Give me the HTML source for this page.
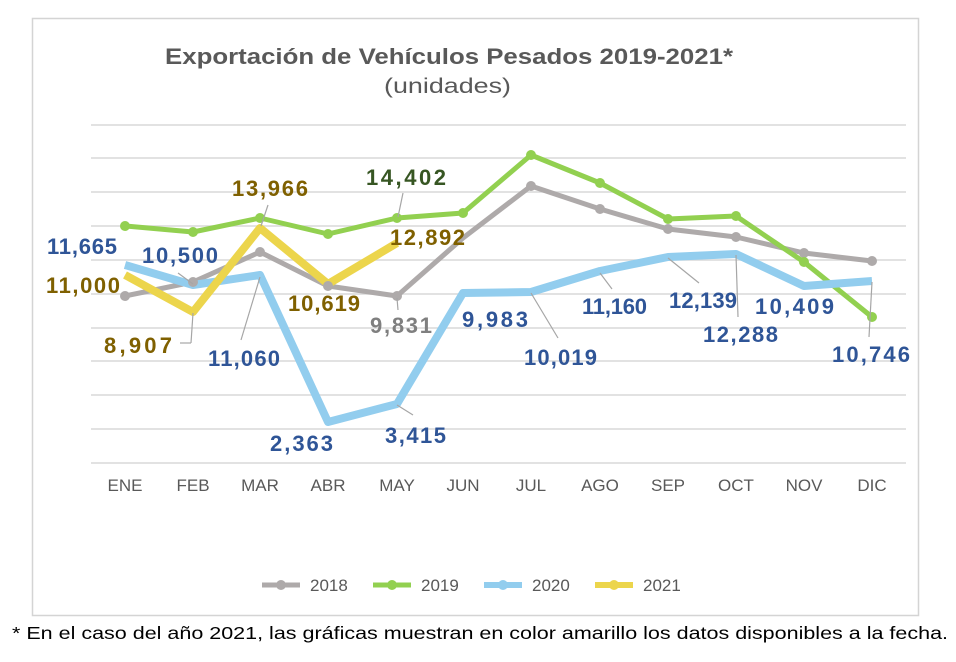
<!DOCTYPE html>
<html><head><meta charset="utf-8"><style>
body{margin:0;background:#fff;width:956px;height:657px;overflow:hidden}
svg text{font-family:"Liberation Sans",sans-serif}
</style></head><body>
<svg width="956" height="657" viewBox="0 0 956 657">
<rect x="32.5" y="18.5" width="886" height="597" fill="#fff" stroke="#d4d4d4" stroke-width="1.5"/>
<text x="165" y="64" textLength="568" lengthAdjust="spacingAndGlyphs" font-size="22" font-weight="bold" fill="#595959">Exportación de Vehículos Pesados 2019-2021*</text>
<text x="384" y="93" textLength="127" lengthAdjust="spacingAndGlyphs" font-size="21" fill="#595959">(unidades)</text>
<g stroke="#d9d9d9" stroke-width="1.5">
<line x1="91" x2="906" y1="125" y2="125"/><line x1="91" x2="906" y1="158" y2="158"/><line x1="91" x2="906" y1="192" y2="192"/><line x1="91" x2="906" y1="226" y2="226"/><line x1="91" x2="906" y1="260" y2="260"/><line x1="91" x2="906" y1="294" y2="294"/><line x1="91" x2="906" y1="328" y2="328"/><line x1="91" x2="906" y1="361" y2="361"/><line x1="91" x2="906" y1="395" y2="395"/><line x1="91" x2="906" y1="429" y2="429"/><line x1="91" x2="906" y1="463" y2="463"/>
</g>
<g font-size="17" fill="#595959" text-anchor="middle">
<text x="125" y="491">ENE</text><text x="193" y="491">FEB</text><text x="260" y="491">MAR</text><text x="328" y="491">ABR</text><text x="397" y="491">MAY</text><text x="463" y="491">JUN</text><text x="531" y="491">JUL</text><text x="600" y="491">AGO</text><text x="668" y="491">SEP</text><text x="736" y="491">OCT</text><text x="804" y="491">NOV</text><text x="872" y="491">DIC</text>
</g>
<g fill="none" stroke-linejoin="round">
<polyline stroke="#aeaaaa" stroke-width="5" points="125,296 193,282 260,252 328,286 397,296 463,238 531,186 600,209 668,229 736,237 804,253 872,261"/>
<polyline stroke="#92d050" stroke-width="5" points="125,226 193,232 260,218 328,234 397,218 463,213 531,155 600,183 668,219 736,216 804,262 872,317"/>
<polyline stroke="#92cdee" stroke-width="8" points="125,265 193,285 260,275 328,422 397,404 463,293 531,292 600,271 668,257 736,254 804,286 872,281"/>
<polyline stroke="#ecd54c" stroke-width="8" points="125,275 193,312 260,228 328,284 397,243"/>
</g>
<g fill="#aeaaaa"><circle cx="125" cy="296" r="5"/><circle cx="193" cy="282" r="5"/><circle cx="260" cy="252" r="5"/><circle cx="328" cy="286" r="5"/><circle cx="397" cy="296" r="5"/><circle cx="531" cy="186" r="5"/><circle cx="600" cy="209" r="5"/><circle cx="668" cy="229" r="5"/><circle cx="736" cy="237" r="5"/><circle cx="804" cy="253" r="5"/><circle cx="872" cy="261" r="5"/></g>
<g fill="#92d050"><circle cx="125" cy="226" r="5"/><circle cx="193" cy="232" r="5"/><circle cx="260" cy="218" r="5"/><circle cx="328" cy="234" r="5"/><circle cx="397" cy="218" r="5"/><circle cx="463" cy="213" r="5"/><circle cx="531" cy="155" r="5"/><circle cx="600" cy="183" r="5"/><circle cx="668" cy="219" r="5"/><circle cx="736" cy="216" r="5"/><circle cx="804" cy="262" r="5"/><circle cx="872" cy="317" r="5"/></g>
<g stroke="#a6a6a6" stroke-width="1.2">
<line x1="178" y1="273" x2="193" y2="284"/><line x1="193" y1="313" x2="191" y2="343"/><line x1="191" y1="343" x2="180" y2="343"/>
<line x1="268" y1="205" x2="261" y2="226"/><line x1="260" y1="277" x2="241" y2="340"/>
<line x1="403" y1="193" x2="398" y2="217"/><line x1="397" y1="298" x2="398" y2="310"/>
<line x1="397" y1="405" x2="413" y2="415"/>
<line x1="531" y1="293" x2="558" y2="338"/><line x1="600" y1="273" x2="612" y2="289"/>
<line x1="668" y1="258" x2="699" y2="283"/><line x1="736" y1="255" x2="738" y2="317"/>
<line x1="872" y1="282" x2="869" y2="337"/>
</g>
<g font-size="22" font-weight="bold" lengthAdjust="spacingAndGlyphs">
<text x="47" y="254" textLength="70" fill="#2f5597">11,665</text>
<text x="142" y="263" textLength="76" fill="#2f5597">10,500</text>
<text x="46" y="293" textLength="74" fill="#7f6000">11,000</text>
<text x="104" y="353" textLength="68" fill="#7f6000">8,907</text>
<text x="232" y="196" textLength="76" fill="#7f6000">13,966</text>
<text x="208" y="366" textLength="72" fill="#2f5597">11,060</text>
<text x="288" y="311" textLength="72" fill="#7f6000">10,619</text>
<text x="366" y="185" textLength="80" fill="#375623">14,402</text>
<text x="390" y="245" textLength="75" fill="#7f6000">12,892</text>
<text x="370" y="333" textLength="62" fill="#7f7f7f">9,831</text>
<text x="270" y="451" textLength="63" fill="#2f5597">2,363</text>
<text x="385" y="443" textLength="61" fill="#2f5597">3,415</text>
<text x="462" y="327" textLength="66" fill="#2f5597">9,983</text>
<text x="524" y="365" textLength="73" fill="#2f5597">10,019</text>
<text x="582" y="314" textLength="65" fill="#2f5597">11,160</text>
<text x="669" y="308" textLength="68" fill="#2f5597">12,139</text>
<text x="703" y="342" textLength="75" fill="#2f5597">12,288</text>
<text x="755" y="314" textLength="79" fill="#2f5597">10,409</text>
<text x="832" y="362" textLength="78" fill="#2f5597">10,746</text>
</g>
<g font-size="17" fill="#595959">
<line x1="262" y1="585" x2="300" y2="585" stroke="#aeaaaa" stroke-width="5"/><circle cx="281" cy="585" r="5" fill="#aeaaaa"/><text x="310" y="591">2018</text>
<line x1="373" y1="585" x2="411" y2="585" stroke="#92d050" stroke-width="5"/><circle cx="392" cy="585" r="5" fill="#92d050"/><text x="421" y="591">2019</text>
<line x1="484" y1="585" x2="522" y2="585" stroke="#92cdee" stroke-width="6"/><circle cx="503" cy="585" r="5" fill="#92cdee"/><text x="532" y="591">2020</text>
<line x1="595" y1="585" x2="633" y2="585" stroke="#ecd54c" stroke-width="6"/><circle cx="614" cy="585" r="5" fill="#ecd54c"/><text x="643" y="591">2021</text>
</g>
<text x="12" y="639" textLength="936" lengthAdjust="spacingAndGlyphs" font-size="17.5" fill="#000">* En el caso del año 2021, las gráficas muestran en color amarillo los datos disponibles a la fecha.</text>
</svg>
</body></html>
